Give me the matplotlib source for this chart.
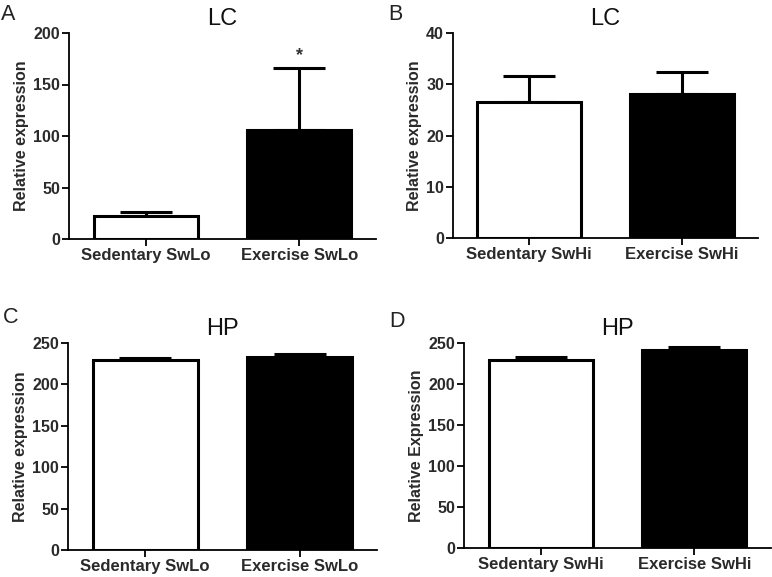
import numpy as np
import matplotlib
matplotlib.use('Agg')
import matplotlib.pyplot as plt

plt.rcParams['font.family'] = ['Liberation Sans', 'DejaVu Sans']

# data (mean, upper SEM)
groups_lo = ['Sedentary SwLo', 'Exercise SwLo']
groups_hi = ['Sedentary SwHi', 'Exercise SwHi']

lc_lo_mean = [22, 106]
lc_lo_err = [4, 60]
lc_hi_mean = [26.5, 28.1]
lc_hi_err = [5.1, 4.2]
hp_lo_mean = [230, 233]
hp_lo_err = [2, 3.5]
hp_hi_mean = [229.5, 241]
hp_hi_err = [4, 4]

# y axis setups
lc_lo_ticks = [0, 50, 100, 150, 200]
lc_hi_ticks = [0, 10, 20, 30, 40]
hp_ticks = [0, 50, 100, 150, 200, 250]

W, H = 772, 577
fig = plt.figure(figsize=(W / 100, H / 100), dpi=100)

def px_axes(l, r, t, b):
    return fig.add_axes([l / W, 1 - b / H, (r - l) / W, (b - t) / H])

def panel(ax, names, means, errs, ticks, title, ylabel, letter, lpos, star=None):
    x = np.arange(len(names))
    ax.bar(x, means, width=0.68, color=['white', 'black'], edgecolor='black',
           linewidth=2.2, zorder=2)
    ax.errorbar(x, means, yerr=[np.zeros(len(errs)), errs], fmt='none',
                ecolor='black', elinewidth=2.2, capsize=19, capthick=2.2, zorder=1)
    ax.set_xlim(-0.5, 1.5)
    ax.set_ylim(0, ticks[-1])
    ax.set_yticks(ticks)
    ax.set_xticks(x)
    ax.set_xticklabels(names, fontsize=12, fontweight='bold', color='#2a2a2a')
    for t in ax.get_yticklabels():
        t.set_fontsize(11.5)
        t.set_fontweight('bold')
        t.set_color('#2a2a2a')
    ax.set_ylabel(ylabel, fontsize=11.5, fontweight='bold', color='#2a2a2a', labelpad=3)
    ax.set_title(title, fontsize=17, pad=6, color='#111111')
    for s in ['top', 'right']:
        ax.spines[s].set_visible(False)
    for s in ['left', 'bottom']:
        ax.spines[s].set_linewidth(1.3)
    ax.tick_params(width=1.3, length=5, pad=1.5)
    fig.text(lpos[0] / W, 1 - lpos[1] / H, letter, fontsize=15.5, color='#222222')
    if star is not None:
        ax.text(x[star], means[star] + errs[star] + 4, '*', ha='center', va='bottom',
                fontsize=13, fontweight='bold', color='#333333')

axA = px_axes(69, 376, 33, 239)
panel(axA, groups_lo, lc_lo_mean, lc_lo_err, lc_lo_ticks, 'LC', 'Relative expression',
      'A', (1, 20), star=1)

axB = px_axes(453, 758, 33, 238)
panel(axB, groups_hi, lc_hi_mean, lc_hi_err, lc_hi_ticks, 'LC', 'Relative expression',
      'B', (388, 20))

axC = px_axes(68, 377, 343, 550)
panel(axC, groups_lo, hp_lo_mean, hp_lo_err, hp_ticks, 'HP', 'Relative expression',
      'C', (3, 323))

axD = px_axes(464, 771, 343, 548)
panel(axD, groups_hi, hp_hi_mean, hp_hi_err, hp_ticks, 'HP', 'Relative Expression',
      'D', (389, 327))

fig.savefig('out.png', dpi=100)
